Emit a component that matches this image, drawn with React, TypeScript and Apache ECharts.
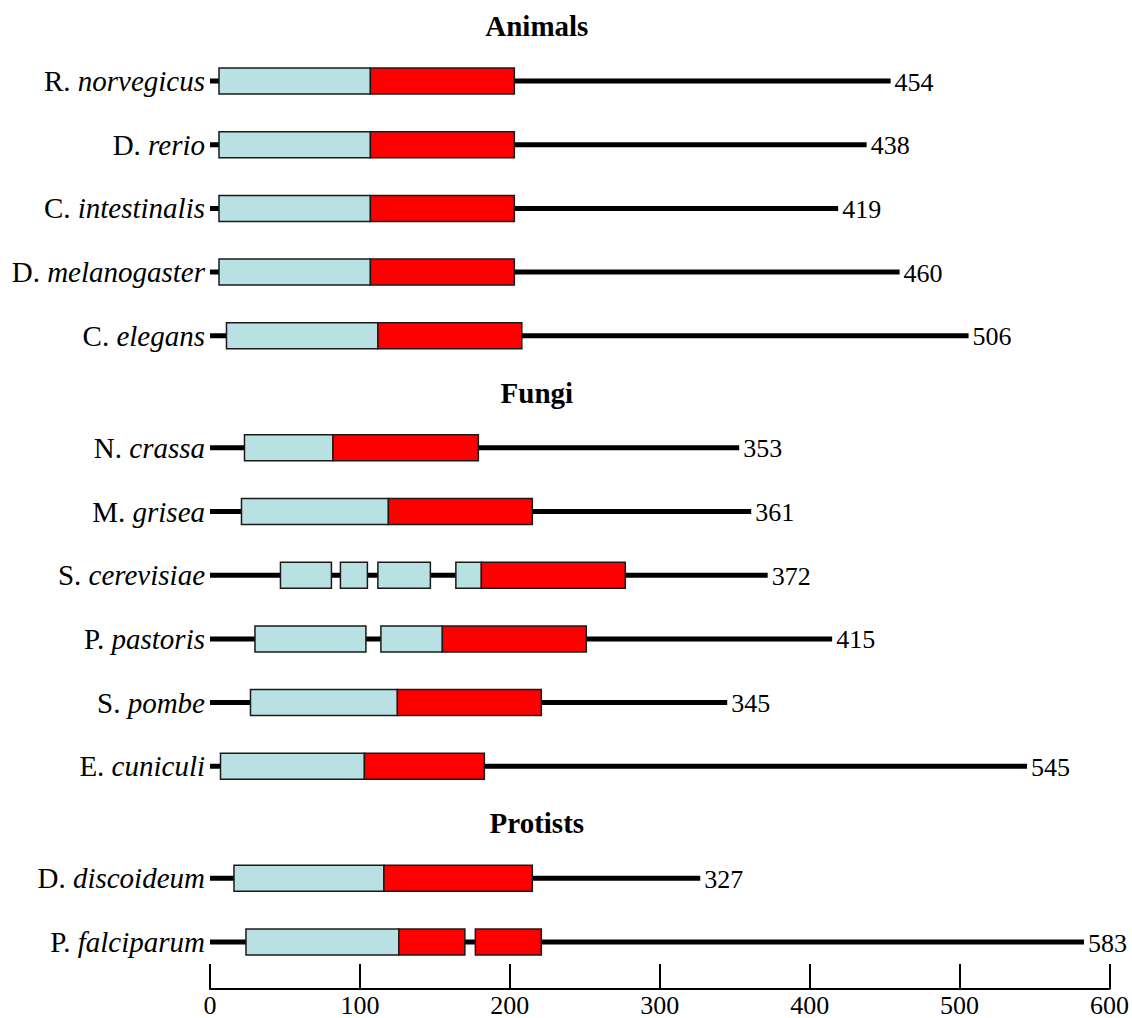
import React, { useEffect, useRef } from 'react';
import * as echarts from 'echarts';

// ---- data ----
const groupNames = ['Animals', 'Fungi', 'Protists'];
const groupSizes = [5, 6, 2];
const genus = ['R.', 'D.', 'C.', 'D.', 'C.', 'N.', 'M.', 'S.', 'P.', 'S.', 'E.', 'D.', 'P.'];
const species = ['norvegicus', 'rerio', 'intestinalis', 'melanogaster', 'elegans', 'crassa', 'grisea', 'cerevisiae', 'pastoris', 'pombe', 'cuniculi', 'discoideum', 'falciparum'];
const lengths = [454, 438, 419, 460, 506, 353, 361, 372, 415, 345, 545, 327, 583];
const blueDomains: number[][][] = [
  [[6, 107]],
  [[6, 107]],
  [[6, 107]],
  [[6, 107]],
  [[11, 112]],
  [[23, 82]],
  [[21, 119]],
  [[47, 81], [87, 105], [112, 147], [164, 181]],
  [[30, 104], [114, 155]],
  [[27, 125]],
  [[7, 103]],
  [[16, 116]],
  [[24, 126]],
];
const redDomains: number[][][] = [
  [[107, 203]],
  [[107, 203]],
  [[107, 203]],
  [[107, 203]],
  [[112, 208]],
  [[82, 179]],
  [[119, 215]],
  [[181, 277]],
  [[155, 251]],
  [[125, 221]],
  [[103, 183]],
  [[116, 215]],
  [[126, 170], [177, 221]],
];
const axisMin = 0;
const axisMax = 600;
const axisStep = 100;

// ---- layout (pixel-like units on hidden y axis) ----
const FONT = '"Liberation Serif", "Times New Roman", serif';
const headerTop = 26;
const headerToRow = 55;
const rowStep = 63.7;
const rowToHeader = 57;
const headerX = 218;

function computeLayout() {
  const headerY: number[] = [];
  const rowY: number[] = [];
  let y = headerTop;
  groupSizes.forEach((n, g) => {
    if (g > 0) y += rowToHeader;
    headerY.push(y);
    y += headerToRow;
    for (let i = 0; i < n; i++) {
      if (i > 0) y += rowStep;
      rowY.push(y);
    }
  });
  return { headerY, rowY };
}

export default function App() {
  const ref = useRef<HTMLDivElement>(null);
  useEffect(() => {
    if (!ref.current) return;
    const chart = echarts.init(ref.current, undefined, { renderer: 'svg' });
    const { headerY, rowY } = computeLayout();

    const rowRender = (params: any, api: any) => {
      const idx = api.value(0);
      const y = rowY[idx];
      const p0 = api.coord([0, y]);
      const p1 = api.coord([lengths[idx], y]);
      const children: any[] = [
        {
          type: 'line',
          shape: { x1: p0[0], y1: p0[1], x2: p1[0], y2: p1[1] },
          style: { stroke: '#000', lineWidth: 5 },
        },
      ];
      const addRect = (d: number[], fill: string) => {
        const a = api.coord([d[0], y]);
        const b = api.coord([d[1], y]);
        children.push({
          type: 'rect',
          shape: { x: a[0], y: a[1] - 13, width: b[0] - a[0], height: 26 },
          style: { fill, stroke: '#1a1a1a', lineWidth: 1.5 },
        });
      };
      blueDomains[idx].forEach((d) => addRect(d, '#b9e0e3'));
      redDomains[idx].forEach((d) => addRect(d, '#ff0000'));
      children.push({
        type: 'text',
        x: p0[0] - 5,
        y: p0[1],
        style: {
          text: `{a|${genus[idx]} }{b|${species[idx]}}`,
          align: 'right',
          verticalAlign: 'middle',
          rich: {
            a: { fontFamily: FONT, fontSize: 29, fill: '#000' },
            b: { fontFamily: FONT, fontSize: 29, fontStyle: 'italic', fill: '#000' },
          },
        },
      });
      children.push({
        type: 'text',
        x: p1[0] + 4,
        y: p1[1] + 1,
        style: {
          text: String(lengths[idx]),
          align: 'left',
          verticalAlign: 'middle',
          fontFamily: FONT,
          fontSize: 26,
          fill: '#000',
        },
      });
      return { type: 'group', children };
    };

    const headerRender = (params: any, api: any) => {
      const g = api.value(0);
      const p = api.coord([headerX, headerY[g]]);
      return {
        type: 'text',
        x: p[0],
        y: p[1],
        style: {
          text: groupNames[g],
          align: 'center',
          verticalAlign: 'middle',
          fontFamily: FONT,
          fontSize: 29,
          fontWeight: 'bold',
          fill: '#000',
        },
      };
    };

    chart.setOption({
      animation: false,
      backgroundColor: '#fff',
      grid: { left: 210, right: 22, top: 0, bottom: 29, containLabel: false },
      xAxis: {
        type: 'value',
        position: 'bottom',
        min: axisMin,
        max: axisMax,
        interval: axisStep,
        axisLine: { show: true, onZero: false, lineStyle: { color: '#000', width: 2 } },
        axisTick: { show: true, inside: true, length: 25, lineStyle: { color: '#000', width: 2 } },
        axisLabel: { color: '#000', fontFamily: FONT, fontSize: 26, margin: 3 },
        splitLine: { show: false },
      },
      yAxis: { type: 'value', min: 0, max: 989, inverse: true, show: false },
      series: [
        {
          type: 'custom',
          clip: false,
          renderItem: rowRender,
          data: lengths.map((_, i) => [i]),
          encode: { x: -1, y: -1 },
        },
        {
          type: 'custom',
          clip: false,
          renderItem: headerRender,
          data: groupNames.map((_, i) => [i]),
          encode: { x: -1, y: -1 },
        },
      ],
    });
    return () => chart.dispose();
  }, []);
  return (
    <div
      ref={ref}
      style={{ position: 'fixed', left: 0, top: 0, width: 1132, height: 1018, background: '#fff' }}
    />
  );
}
